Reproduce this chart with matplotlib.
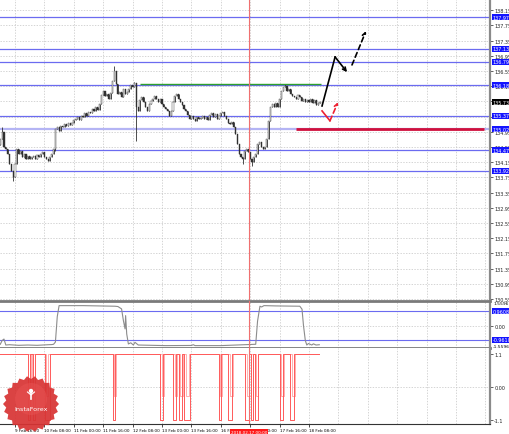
import numpy as np
import matplotlib
matplotlib.use('Agg')
import matplotlib.pyplot as plt
from matplotlib.patches import Polygon, Rectangle, Circle
from matplotlib.transforms import blended_transform_factory

W, H = 510, 435

# USDJPY H1 closes (bar 0 = left edge)
closes = [
    134.76, 134.95, 134.55, 134.50, 134.37, 134.10, 133.92, 133.76,
    134.10, 134.50, 134.37, 134.45, 134.29, 134.37, 134.23, 134.31,
    134.23, 134.29, 134.31, 134.23, 134.34, 134.29, 134.37, 134.42,
    134.29, 134.23, 134.18, 134.29, 134.37, 134.50, 135.02, 135.08,
    134.97, 135.10, 135.08, 135.16, 135.10, 135.18, 135.13, 135.18,
    135.26, 135.29, 135.34, 135.26, 135.37, 135.34, 135.45, 135.37,
    135.47, 135.45, 135.55, 135.50, 135.60, 135.52, 135.68, 135.92,
    136.03, 135.89, 135.95, 135.81, 135.97, 136.29, 136.55, 136.21,
    135.95, 136.00, 135.87, 136.08, 135.95, 136.00, 136.08, 136.18,
    136.13, 136.24, 135.60, 135.50, 135.79, 135.87, 135.73, 135.60,
    135.50, 135.68, 135.76, 135.81, 135.89, 135.81, 135.73, 135.81,
    135.68, 135.60, 135.55, 135.50, 135.37, 135.50, 135.73, 135.89,
    135.95, 135.81, 135.73, 135.66, 135.55, 135.50, 135.39, 135.29,
    135.37, 135.29, 135.24, 135.34, 135.29, 135.31, 135.37, 135.29,
    135.34, 135.26, 135.39, 135.45, 135.34, 135.42, 135.29, 135.37,
    135.45, 135.47, 135.37, 135.29, 135.18, 135.16, 135.21, 135.08,
    134.89, 134.63, 134.37, 134.29, 134.23, 134.45, 134.50, 134.42,
    134.23, 134.16, 134.29, 134.37, 134.63, 134.68, 134.55, 134.50,
    134.55, 134.76, 135.24, 135.60, 135.68, 135.60, 135.71, 135.60,
    135.81, 136.03, 136.13, 136.16, 136.03, 136.08, 135.95, 135.89,
    135.87, 135.81, 135.92, 135.87, 135.76, 135.81, 135.73, 135.79,
    135.73, 135.81, 135.71, 135.79, 135.66, 135.71, 135.73,
]
first_open = 134.60
# only the long shadows are worth noting
wick_highs = {1: 135.08, 62: 136.68, 73: 136.27, 155: 136.21}
wick_lows = {7: 133.66, 74: 134.71, 132: 134.10, 137: 134.05, 30: 134.45}

# horizontal levels
blue_levels = [137.97, 137.13, 136.79, 136.18, 135.37, 134.47, 133.92]
light_level = 135.02
green_level = 136.21
green_span = (76, 174.5)
red_level = 135.02
red_span = (161, 263)

# forecast paths (bar, price)
bull_bars = [175.1, 182.2, 188.7]
bull_prices = [135.63, 136.92, 136.52]
bull_next_bars = [191.4, 199.0]
bull_next_prices = [136.71, 137.60]
bear_bars = [175.1, 179.4, 183.8]
bear_prices = [135.50, 135.24, 135.73]

# indicator 1 (gray line) breakpoints
ind1_bars = [0, 1, 2, 3, 5, 10, 15, 20, 26, 28, 29, 30, 31, 32, 45, 62.4, 64, 66,
             67, 67.9, 68.2, 68.8, 69.7, 71, 72.4, 73.3, 75.1, 90, 104, 105, 106,
             120, 139, 140, 141.3, 142.2, 143.5, 150, 163, 164.2, 165, 166,
             166.8, 167.7, 169.5, 170.4, 171.8, 173.6]
ind1_vals = [-1.25, -1.0, -0.9, -1.3, -1.28, -1.32, -1.3, -1.32, -1.28, -1.27, -1.25,
             -1.1, 0.6, 1.34, 1.34, 1.30, 1.28, 1.12, 0.33, -0.22, 0.67, -0.56,
             -1.23, -1.15, -1.3, -1.12, -1.3, -1.34, -1.33, -1.28, -1.34, -1.34,
             -1.25, 0.3, 1.3, 1.25, 1.34, 1.32, 1.3, 1.1, 0.0, -1.0, -1.3, -1.2,
             -1.3, -1.22, -1.3, -1.28]
ind1_levels = [0.9608, -0.9610]

# indicator 2: stays at 1.1, drops for a few bars
ind2_top, ind2_bottom, ind2_mid = 1.1, -1.1, -0.3
ind2_end = 173.6
red_drops = [(15.2, 16.2), (18.0, 18.8), (24.3, 26.8), (61.4, 62.3), (86.8, 88.8),
             (94.0, 95.8), (97.0, 98.8), (100.0, 103.5), (118.8, 120.2),
             (124.0, 126.0), (133.0, 135.5), (136.3, 137.6), (138.4, 140.0),
             (152.0, 153.6), (157.7, 159.6)]
pink_drops = [(16.5, 17.5), (25.0, 26.0), (62.0, 62.8), (88.0, 89.2), (95.0, 96.3),
              (98.0, 99.5), (101.0, 102.5), (119.5, 120.6), (125.0, 126.8),
              (134.0, 136.2), (139.0, 140.5), (153.0, 154.2), (158.5, 160.2)]

# time axis
time_tick_bars = [-8, 8, 24, 40, 56, 72, 88, 104, 120, 136, 152, 168]
time_labels = ['9 Feb 00:00', '9 Feb 16:00', '10 Feb 08:00', '11 Feb 00:00',
               '11 Feb 16:00', '12 Feb 08:00', '13 Feb 00:00', '13 Feb 16:00',
               '16 Feb 08:00', '17 Feb 00:00', '17 Feb 16:00', '18 Feb 08:00']
grid_bars = list(range(8, 265, 16))
cursor_bar = 135.5
cursor_label = '2018.02.17 00:00'
price_ticks = [130.55, 130.95, 131.35, 131.75, 132.15, 132.55, 132.95, 133.35,
               133.75, 134.15, 134.55, 134.95, 135.35, 135.75, 136.15, 136.55,
               136.95, 137.35, 137.75, 138.15]
# these two sit fully under the level boxes
hidden_ticks = [135.35, 135.75]

XLIM = (-0.16, 266.5)
FS = 3.5
TFS = 3.0
GRID = dict(color='#c4c4c4', lw=0.5, ls=(0, (2, 2)))
BLUE = '#6b6bf0'


def rect(top, bottom):
    return [0, 1 - bottom / H, 490 / W, (bottom - top) / H]


def boxed(ax, y, txt, fc):
    tr = blended_transform_factory(ax.transAxes, ax.transData)
    ax.text(1.005, y, txt, transform=tr, fontsize=FS, color='white', va='center',
            ha='left', clip_on=False, zorder=10,
            bbox=dict(boxstyle='square,pad=0.12', fc=fc, ec='none'))


fig = plt.figure(figsize=(W / 100, H / 100), dpi=100)
fig.patch.set_facecolor('white')

ax = fig.add_axes(rect(0, 301))
ax1 = fig.add_axes(rect(302, 349))
ax2 = fig.add_axes(rect(349, 425))

for a in (ax, ax1, ax2):
    a.set_xlim(*XLIM)
    a.yaxis.tick_right()
    a.tick_params(axis='y', direction='out', length=2, width=0.5, pad=1,
                  labelsize=FS, colors='#222222')
    a.tick_params(axis='x', length=0, labelbottom=False)
    for s in ('left', 'top'):
        a.spines[s].set_visible(False)
    a.spines['right'].set_color('#8a8a8a')
    a.spines['right'].set_linewidth(1.6)
    a.spines['bottom'].set_visible(False)
    for gb in grid_bars:
        a.axvline(gb, zorder=0, **GRID)
    a.axvline(cursor_bar, color='#f07070', lw=0.8, zorder=5)

# ---- main price panel
ax.set_ylim(130.524, 138.445)
ax.set_yticks(price_ticks)
ax.set_yticklabels(['' if p in hidden_ticks else '%.2f' % p for p in price_ticks])
for p in price_ticks:
    ax.axhline(p, zorder=0, **GRID)

idx = np.arange(len(closes))
opens = np.array([first_open] + closes[:-1])
cl = np.array(closes)
highs = np.maximum(opens, cl)
lows = np.minimum(opens, cl)
for i, v in wick_highs.items():
    highs[i] = v
for i, v in wick_lows.items():
    lows[i] = v
ax.vlines(idx, lows, highs, color='#303030', lw=0.6, zorder=3)
up = cl >= opens
ax.bar(idx[up], (cl - opens)[up], bottom=opens[up], width=0.6, color='white',
       edgecolor='#303030', linewidth=0.3, zorder=4)
ax.bar(idx[~up], (opens - cl)[~up], bottom=cl[~up], width=0.6, color='#303030',
       edgecolor='#303030', linewidth=0.3, zorder=4)

for lv in blue_levels:
    ax.axhline(lv, color=BLUE, lw=0.9, zorder=2)
    boxed(ax, lv, '%.2f' % lv, '#1414ff')
ax.axhline(light_level, color='#b4b4f4', lw=1.6, zorder=2)
boxed(ax, light_level, '%.2f' % light_level, '#1414ff')
ax.hlines(green_level, *green_span, color='#2ea02e', lw=1.0, zorder=3)
ax.hlines(red_level, *red_span, color='#d0103c', lw=2.0, zorder=3)
boxed(ax, closes[-1], '%.2f' % closes[-1], '#000000')

ax.plot(bull_bars[:-1], bull_prices[:-1], color='black', lw=1.2, zorder=6)
ax.annotate('', xy=(bull_bars[-1], bull_prices[-1]),
            xytext=(bull_bars[-2], bull_prices[-2]),
            arrowprops=dict(arrowstyle='->', color='black', lw=1.2,
                            shrinkA=0, shrinkB=0, mutation_scale=6), zorder=6)
ax.annotate('', xy=(bull_next_bars[-1], bull_next_prices[-1]),
            xytext=(bull_next_bars[0], bull_next_prices[0]),
            arrowprops=dict(arrowstyle='->', color='black', lw=1.2, ls=(0, (3, 2)),
                            shrinkA=0, shrinkB=0, mutation_scale=6), zorder=6)
ax.plot(bear_bars[:-1], bear_prices[:-1], color='#ee2030', lw=1.2, zorder=6)
ax.annotate('', xy=(bear_bars[-1], bear_prices[-1]),
            xytext=(bear_bars[-2], bear_prices[-2]),
            arrowprops=dict(arrowstyle='->', color='#ee2030', lw=1.2, ls=(0, (3, 2)),
                            shrinkA=0, shrinkB=0, mutation_scale=6), zorder=6)

# ---- indicator 1
ax1.set_ylim(-1.50, 1.65)
ax1.set_yticks([0])
ax1.set_yticklabels(['0.00'])
ax1.axhline(0, zorder=0, **GRID)
ax1.plot(ind1_bars, ind1_vals, color='#8c8c8c', lw=0.8, zorder=3)
for lv in ind1_levels:
    ax1.axhline(lv, color=BLUE, lw=0.8, zorder=2)
    boxed(ax1, lv, '%.4f' % lv, '#1414ff')
tr1 = blended_transform_factory(ax1.transAxes, ax1.transAxes)
ax1.text(1.008, 0.99, '1.5596', transform=tr1, fontsize=FS - 0.3, va='top', ha='left')
ax1.text(1.006, 0.0, '-1.5596', transform=tr1, fontsize=FS - 0.3, va='bottom', ha='left')
for s in ('top', 'bottom'):
    ax1.spines[s].set_visible(True)
    ax1.spines[s].set_color('#7a7a7a')
    ax1.spines[s].set_linewidth(2.0)

# ---- indicator 2
ax2.set_ylim(-1.23, 1.30)
ax2.set_yticks([1.1, 0, -1.1])
ax2.set_yticklabels(['1.1', '0.00', '-1.1'])
ax2.axhline(0, zorder=0, **GRID)


def step_path(drops, low):
    xs, ys = [0], [ind2_top]
    for a, b in drops:
        xs += [a, a, b, b]
        ys += [ind2_top, low, low, ind2_top]
    xs.append(ind2_end)
    ys.append(ind2_top)
    return xs, ys


px, py = step_path(pink_drops, ind2_mid)
ax2.plot(px, py, color='#ffb0b0', lw=0.7, zorder=2)
rx, ry = step_path(red_drops, ind2_bottom)
ax2.plot(rx, ry, color='#ff5a5a', lw=0.7, zorder=3)
ax2.spines['bottom'].set_visible(True)
ax2.spines['bottom'].set_color('#333333')
ax2.spines['bottom'].set_linewidth(0.8)

# time labels under the bottom panel
ax2.tick_params(axis='x', length=2, width=0.5, direction='out', labelbottom=True,
                labelsize=TFS, pad=1)
ax2.set_xticks(time_tick_bars)
ax2.set_xticklabels(time_labels)
for lab in ax2.get_xticklabels():
    lab.set_ha('left')
ax2.set_xlim(*XLIM)
ax2.text(-8, -0.14, time_labels[0], transform=blended_transform_factory(ax2.transData, ax2.transAxes),
         fontsize=TFS, ha='left', va='center', clip_on=False)
ax2.text(cursor_bar, -0.1, cursor_label,
         transform=blended_transform_factory(ax2.transData, ax2.transAxes),
         fontsize=TFS, color='white', ha='center', va='center', clip_on=False, zorder=10,
         bbox=dict(boxstyle='square,pad=0.2', fc='#ff1a1a', ec='none'))

# ---- InstaForex logo (pixel overlay)
ov = fig.add_axes([0, 0, 1, 1])
ov.set_xlim(0, W)
ov.set_ylim(H, 0)
ov.axis('off')
ov.patch.set_alpha(0)
n_teeth = 22
ang = np.linspace(0, 2 * np.pi, 2 * n_teeth, endpoint=False)
rad = np.where(np.arange(2 * n_teeth) % 2 == 0, 28, 25)
burst = Polygon(np.c_[31 + rad * np.cos(ang), 405 + rad * np.sin(ang)],
                closed=True, fc='#d83434', ec='none', alpha=0.93)
clip = Rectangle((0, 349), 490, 76, transform=ov.transData)
burst.set_clip_path(clip)
ov.add_patch(burst)
glow = Circle((31, 400), 16, fc='#e65050', ec='none', alpha=0.6)
glow.set_clip_path(clip)
ov.add_patch(glow)
ov.add_patch(Circle((31, 392), 2.2, fc='white', ec='none'))
ov.plot([31, 31], [394, 400], color='white', lw=1.2)
ov.plot([27.5, 31, 34.5], [393, 396, 393], color='white', lw=0.8)
ov.text(31, 410, 'InstaForex', color='white', fontsize=4.6, ha='center', va='center')

fig.savefig('out.png', dpi=100)
